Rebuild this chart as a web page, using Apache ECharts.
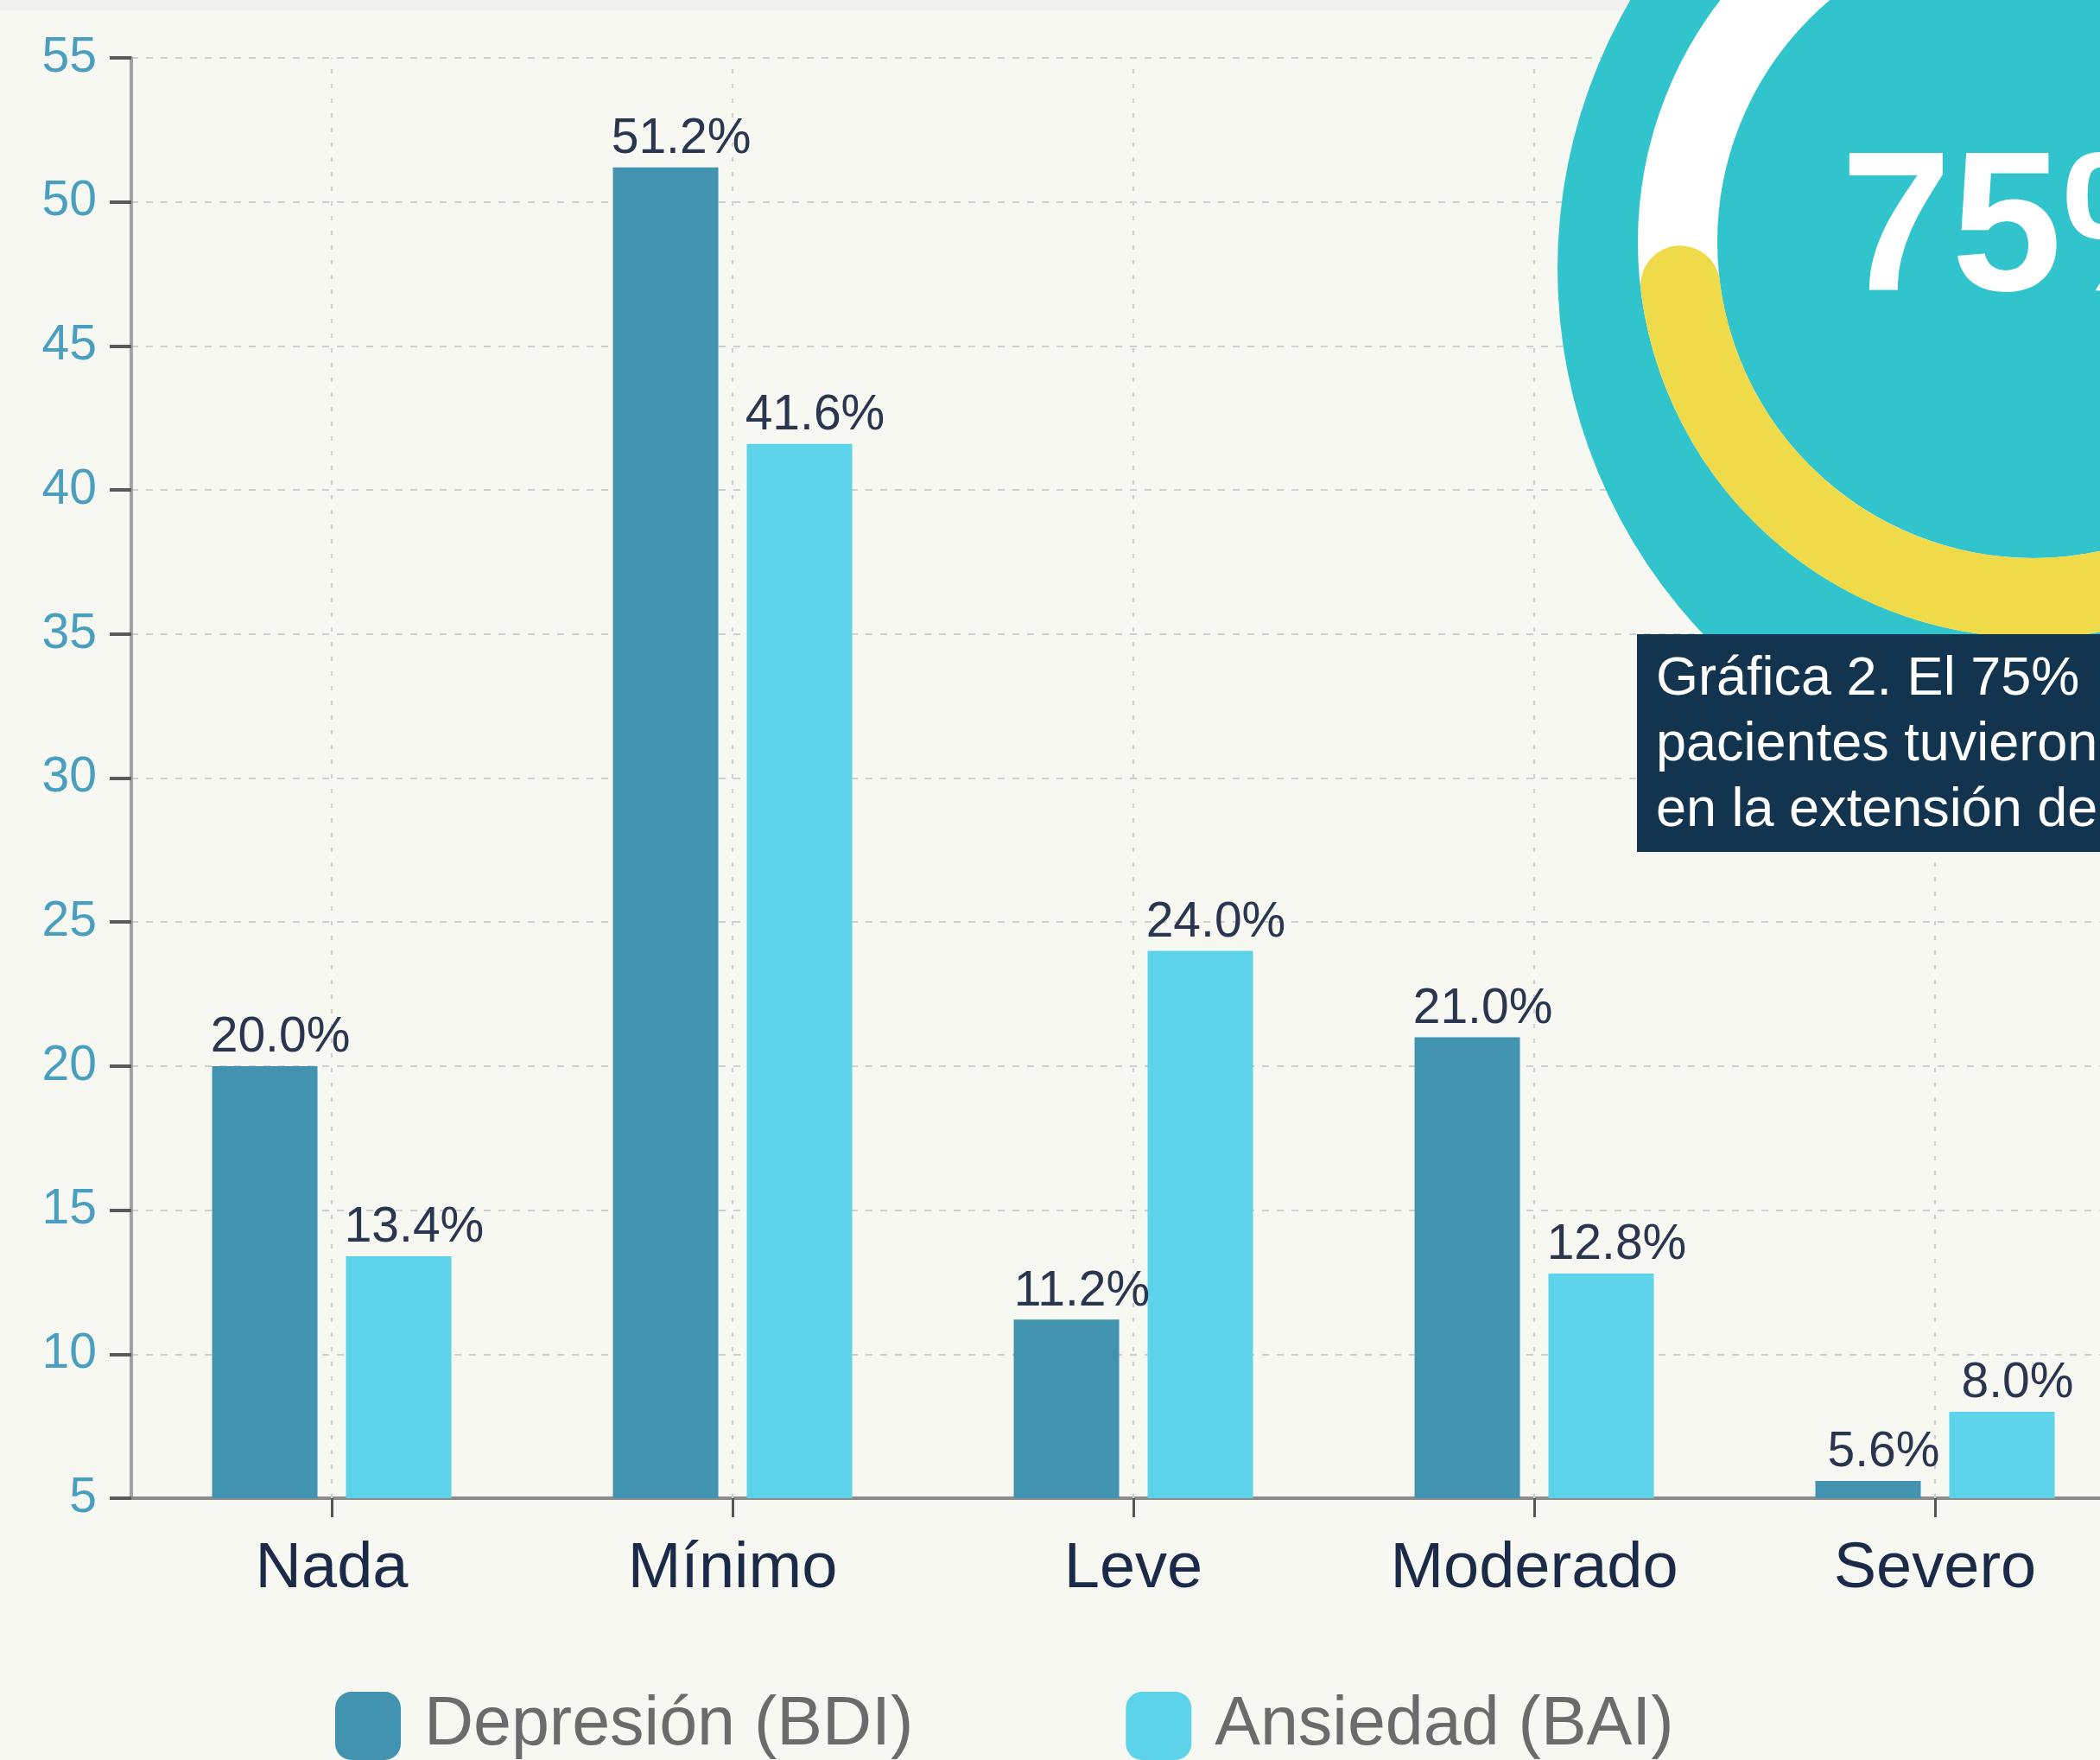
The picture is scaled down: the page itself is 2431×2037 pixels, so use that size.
<!DOCTYPE html>
<html><head><meta charset="utf-8">
<script src="https://cdn.jsdelivr.net/npm/echarts@6/dist/echarts.min.js"></script>
<style>html,body{margin:0;padding:0;background:#f8f8f3;}#c{width:2431px;height:2037px;}</style>
</head><body><div id="c"></div>
<script>
const categories = ['Nada', 'Mínimo', 'Leve', 'Moderado', 'Severo'];
const depresion = [20.0, 51.2, 11.2, 21.0, 5.6];
const ansiedad = [13.4, 41.6, 24.0, 12.8, 8.0];
const seriesNames = ['Depresión (BDI)', 'Ansiedad (BAI)'];
const yMin = 5, yMax = 55, yStep = 5;
const badgeText = '75%';
const captionLines = ['Gráfica 2. El 75%', 'pacientes tuvieron', 'en la extensión de'];

const FONT = '"Liberation Sans", Arial, Helvetica, sans-serif';
const deg = d => d * Math.PI / 180;
const chart = echarts.init(document.getElementById('c'), null, {renderer: 'canvas'});

const labelOpt = {
  show: true, position: 'top', distance: 4, offset: [18, 0],
  fontSize: 57, color: '#2a3550', fontFamily: FONT,
  formatter: p => p.value.toFixed(1) + '%'
};

chart.setOption({
  backgroundColor: '#f8f8f3',
  animation: false,
  textStyle: {fontFamily: FONT},
  grid: {left: 152, top: 67, width: 2320, height: 1667, containLabel: false, outerBoundsMode: 'none'},
  legend: {
    data: seriesNames, left: 383, top: 1953, orient: 'horizontal',
    icon: 'roundRect', itemWidth: 76, itemHeight: 79, itemGap: 246,
    formatter: n => ' ' + n,
    textStyle: {fontSize: 79, color: '#6b6b6b', fontFamily: FONT}
  },
  xAxis: {
    type: 'category', data: categories, boundaryGap: true,
    axisLine: {show: true, lineStyle: {color: '#8c8c8c', width: 4}},
    axisTick: {show: true, alignWithLabel: true, length: 22, lineStyle: {color: '#555', width: 3}},
    axisLabel: {fontSize: 74, color: '#1b2a48', margin: 46, interval: 0, fontFamily: FONT},
    splitLine: {show: false}
  },
  yAxis: {
    type: 'value', min: yMin, max: yMax, interval: yStep,
    axisLine: {show: true, lineStyle: {color: '#a3a3a3', width: 4}},
    axisTick: {show: true, length: 25, lineStyle: {color: '#5a5a5a', width: 4}},
    axisLabel: {fontSize: 57, color: '#4a9fc0', margin: 40, fontFamily: FONT},
    splitLine: {show: true, lineStyle: {color: '#cfcfcf', width: 2, type: [8, 9]}}
  },
  series: [
    {
      name: seriesNames[0], type: 'bar', data: depresion,
      barWidth: 122, barGap: '27%',
      itemStyle: {color: '#4193b0'},
      label: labelOpt
    },
    {
      name: seriesNames[1], type: 'bar', data: ansiedad,
      barWidth: 122,
      itemStyle: {color: '#5dd3ea'},
      label: labelOpt
    },
    {
      name: 'gridV', type: 'line', data: [], silent: true, z: 1,
      markLine: {
        silent: true, symbol: ['none', 'none'], z: 1,
        label: {show: false},
        lineStyle: {color: '#cfcfcf', width: 2, type: [5, 12]},
        data: categories.map(c => ({xAxis: c}))
      }
    }
  ],
  graphic: [
    {type: 'rect', shape: {x: 0, y: 0, width: 2431, height: 12}, style: {fill: '#f1f1ed'}, z: 0, silent: true},
    {type: 'circle', shape: {cx: 2418, cy: 311, r: 615}, style: {fill: '#31c4cc'}, z: 100, silent: true},
    {type: 'arc', shape: {cx: 2354, cy: 280, r: 412, startAngle: 0, endAngle: Math.PI * 2}, style: {stroke: '#ffffff', lineWidth: 92, fill: null}, z: 101, silent: true},
    {type: 'arc', shape: {cx: 2354, cy: 280, r: 412, startAngle: deg(-97), endAngle: deg(173), clockwise: true}, style: {stroke: '#efda4a', lineWidth: 92, lineCap: 'round', fill: null}, z: 102, silent: true},
    {type: 'text', x: 2131, y: 273, style: {text: badgeText, fontSize: 230, fontWeight: 'bold', fontFamily: FONT, fill: '#ffffff', verticalAlign: 'middle', align: 'left'}, z: 103, silent: true},
    {type: 'rect', shape: {x: 1895, y: 734, width: 560, height: 252}, style: {fill: '#13344f'}, z: 104, silent: true},
    ...captionLines.map((t, i) => ({
      type: 'text', x: 1917, y: 787 + i * 76,
      style: {text: t, fontSize: 63, fontFamily: FONT, fill: '#ffffff', verticalAlign: 'middle', align: 'left'},
      z: 105, silent: true
    }))
  ]
});
</script></body></html>
